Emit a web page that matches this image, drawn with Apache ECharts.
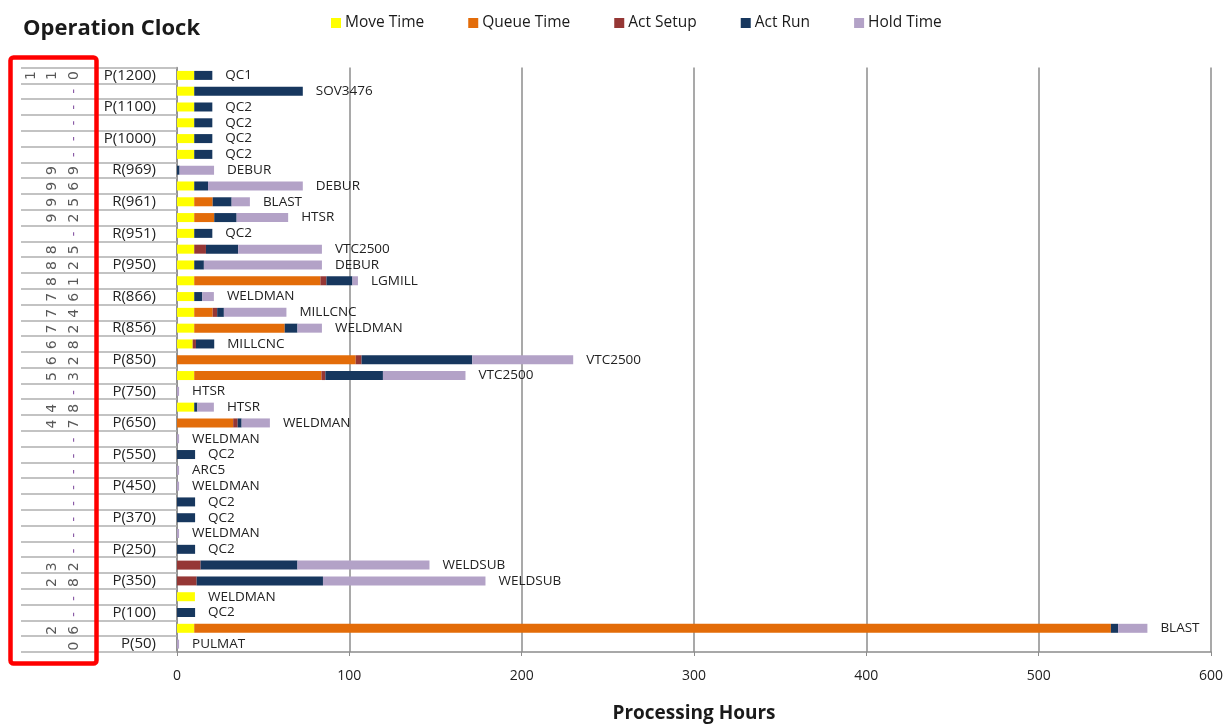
<!DOCTYPE html>
<html>
<head>
<meta charset="utf-8">
<script src="https://cdn.jsdelivr.net/npm/echarts@6/dist/echarts.min.js"></script>
<style>
  html, body { margin: 0; padding: 0; background: #ffffff; }
  #chart { width: 1226px; height: 728px; }
</style>
</head>
<body>
<div id="chart"></div>
<script>
// Routing rows, top to bottom
const rowLabels = ['P(1200)', '', 'P(1100)', '', 'P(1000)', '', 'R(969)', '', 'R(961)', '', 'R(951)', '', 'P(950)', '', 'R(866)', '', 'R(856)', '', 'P(850)', '', 'P(750)', '', 'P(650)', '', 'P(550)', '', 'P(450)', '', 'P(370)', '', 'P(250)', '', 'P(350)', '', 'P(100)', '', 'P(50)'];
const clockValues = ['110', '-', '-', '-', '-', '-', '99', '96', '95', '92', '-', '85', '82', '81', '76', '74', '72', '68', '62', '53', '-', '48', '47', '-', '-', '-', '-', '-', '-', '-', '-', '32', '28', '-', '-', '26', '0'];
const workCenters = ['QC1', 'SOV3476', 'QC2', 'QC2', 'QC2', 'QC2', 'DEBUR', 'DEBUR', 'BLAST', 'HTSR', 'QC2', 'VTC2500', 'DEBUR', 'LGMILL', 'WELDMAN', 'MILLCNC', 'WELDMAN', 'MILLCNC', 'VTC2500', 'VTC2500', 'HTSR', 'HTSR', 'WELDMAN', 'WELDMAN', 'QC2', 'ARC5', 'WELDMAN', 'QC2', 'QC2', 'WELDMAN', 'QC2', 'WELDSUB', 'WELDSUB', 'WELDMAN', 'QC2', 'BLAST', 'PULMAT'];

// Hours per row
const moveTime  = [10, 10, 10, 10, 10, 10, 0, 10, 10, 10, 10, 10, 10, 10, 10, 10, 10, 9.1, 0, 10, 0, 10, 0, 0, 0, 0, 0, 0, 0, 0, 0, 0, 0, 10.4, 0, 10, 0];
const queueTime = [0, 0, 0, 0, 0, 0, 0, 0, 10.7, 11.6, 0, 0, 0, 73.2, 0, 10.7, 52.5, 0, 103.7, 73.8, 0, 0, 32.6, 0, 0, 0, 0, 0, 0, 0, 0, 0, 0, 0, 0, 531.9, 0];
const actSetup  = [0, 0, 0, 0, 0, 0, 0, 0, 0, 0, 0, 6.8, 0, 3.5, 0, 2.6, 0, 1.9, 3.4, 2.3, 0, 0, 2.6, 0, 0, 0, 0, 0, 0, 0, 0, 13.7, 11.4, 0, 0, 0, 0];
const actRun    = [10.5, 63, 10.5, 10.5, 10.5, 10.5, 1.5, 8, 11, 13, 10.5, 18.7, 5.6, 15.1, 4.7, 3.9, 7.4, 10.6, 64.2, 33.4, 0, 1.8, 2.3, 0, 10.5, 0, 0, 10.5, 10.5, 0, 10.5, 56.2, 73.3, 0, 10.5, 4.2, 0];
const holdTime  = [0, 0, 0, 0, 0, 0, 20, 55, 10.6, 29.9, 0, 48.6, 68.5, 3.2, 6.7, 36.3, 14.2, 0, 58.6, 47.9, 1.2, 9.6, 16.4, 1.2, 0, 1.2, 1.2, 0, 0, 1.2, 0, 76.6, 94.3, 0, 0, 17, 1.2];

const seriesNames = ['Move Time', 'Queue Time', 'Act Setup', 'Act Run', 'Hold Time'];
const xTicks = { min: 0, max: 600, step: 100 };

const colors = ['#ffff00', '#e36c09', '#953735', '#17375e', '#b3a2c7'];
const rowIds = rowLabels.map((_, i) => String(i));

// Clock digits: each character sits in one of three right-aligned columns
const clockCells = [];
clockValues.forEach((s, row) => {
  const chars = s.split('');
  chars.forEach((ch, j) => {
    const col = 3 - chars.length + j;
    clockCells.push({
      value: [col, row],
      label: { color: ch === '-' ? '#6b2f8f' : '#2e2e2e' },
      ch: ch
    });
  });
});

const chart = echarts.init(document.getElementById('chart'));

const gridTop = 67.5, gridBottom = 74;

const barSeries = [moveTime, queueTime, actSetup, actRun, holdTime].map((vals, k) => ({
  name: seriesNames[k],
  type: 'bar',
  stack: 'hours',
  xAxisIndex: 0,
  yAxisIndex: 0,
  barWidth: 9,
  itemStyle: { color: colors[k] },
  data: vals,
  label: k === 4 ? {
    show: true,
    position: 'right',
    distance: 13,
    fontFamily: 'Open Sans',
    fontSize: 13.5,
    color: '#222',
    formatter: p => workCenters[p.dataIndex]
  } : { show: false }
}));

chart.setOption({
  animation: false,
  backgroundColor: '#ffffff',
  color: colors,
  title: {
    text: 'Operation Clock',
    left: 18,
    top: 13,
    textStyle: { fontFamily: 'Open Sans', fontWeight: 'bold', fontSize: 22, color: '#1a1a1a' }
  },
  legend: {
    data: seriesNames,
    left: 326,
    top: 10,
    itemWidth: 10,
    itemHeight: 10,
    itemGap: 44,
    icon: 'rect',
    textStyle: { fontFamily: 'Open Sans', fontSize: 15.5, color: '#1a1a1a', padding: [0, 0, 0, -1] }
  },
  grid: [
    { left: 177, right: 13, top: gridTop, bottom: gridBottom },
    { left: 20.25, width: 64.5, top: gridTop, bottom: gridBottom }
  ],
  xAxis: [
    {
      type: 'value',
      gridIndex: 0,
      min: xTicks.min,
      max: xTicks.max,
      interval: xTicks.step,
      name: 'Processing Hours',
      nameLocation: 'middle',
      nameGap: 52,
      nameTextStyle: { fontFamily: 'Open Sans', fontWeight: 'bold', fontSize: 19, color: '#1a1a1a' },
      axisLine: { show: true, lineStyle: { color: '#8c8c8c', width: 1.5 } },
      axisTick: { show: true, length: 4, lineStyle: { color: '#8c8c8c' } },
      axisLabel: { fontFamily: 'Open Sans', fontSize: 14, color: '#222', margin: 17 },
      splitLine: { show: true, lineStyle: { color: '#8c8c8c', width: 1.5 } }
    },
    {
      type: 'value',
      gridIndex: 1,
      min: -0.5,
      max: 2.5,
      show: false
    }
  ],
  yAxis: [
    {
      type: 'category',
      gridIndex: 0,
      data: rowIds,
      inverse: true,
      axisLine: { show: true, lineStyle: { color: '#8c8c8c', width: 1.5 } },
      axisTick: { show: true, interval: 0, length: 156, lineStyle: { color: '#b0b0b0', width: 1.5 } },
      axisLabel: {
        interval: 0,
        margin: 21,
        fontFamily: 'Open Sans',
        fontSize: 15,
        color: '#222',
        formatter: (v, i) => rowLabels[i]
      },
      splitLine: { show: false }
    },
    {
      type: 'category',
      gridIndex: 1,
      data: rowIds,
      inverse: true,
      show: false
    }
  ],
  series: barSeries.concat([{
    type: 'scatter',
    xAxisIndex: 1,
    yAxisIndex: 1,
    symbolSize: 1,
    itemStyle: { color: 'rgba(0,0,0,0)' },
    silent: true,
    label: {
      show: true,
      position: 'inside',
      rotate: 90,
      fontFamily: 'DejaVu Sans',
      fontSize: 14,
      formatter: p => p.data.ch
    },
    data: clockCells
  }]),
  graphic: [{
    type: 'rect',
    left: 8,
    top: 55,
    shape: { width: 86, height: 606, r: 3 },
    style: { fill: 'none', stroke: '#ff0000', lineWidth: 4.5 },
    z: 100
  }]
});
</script>
</body>
</html>
